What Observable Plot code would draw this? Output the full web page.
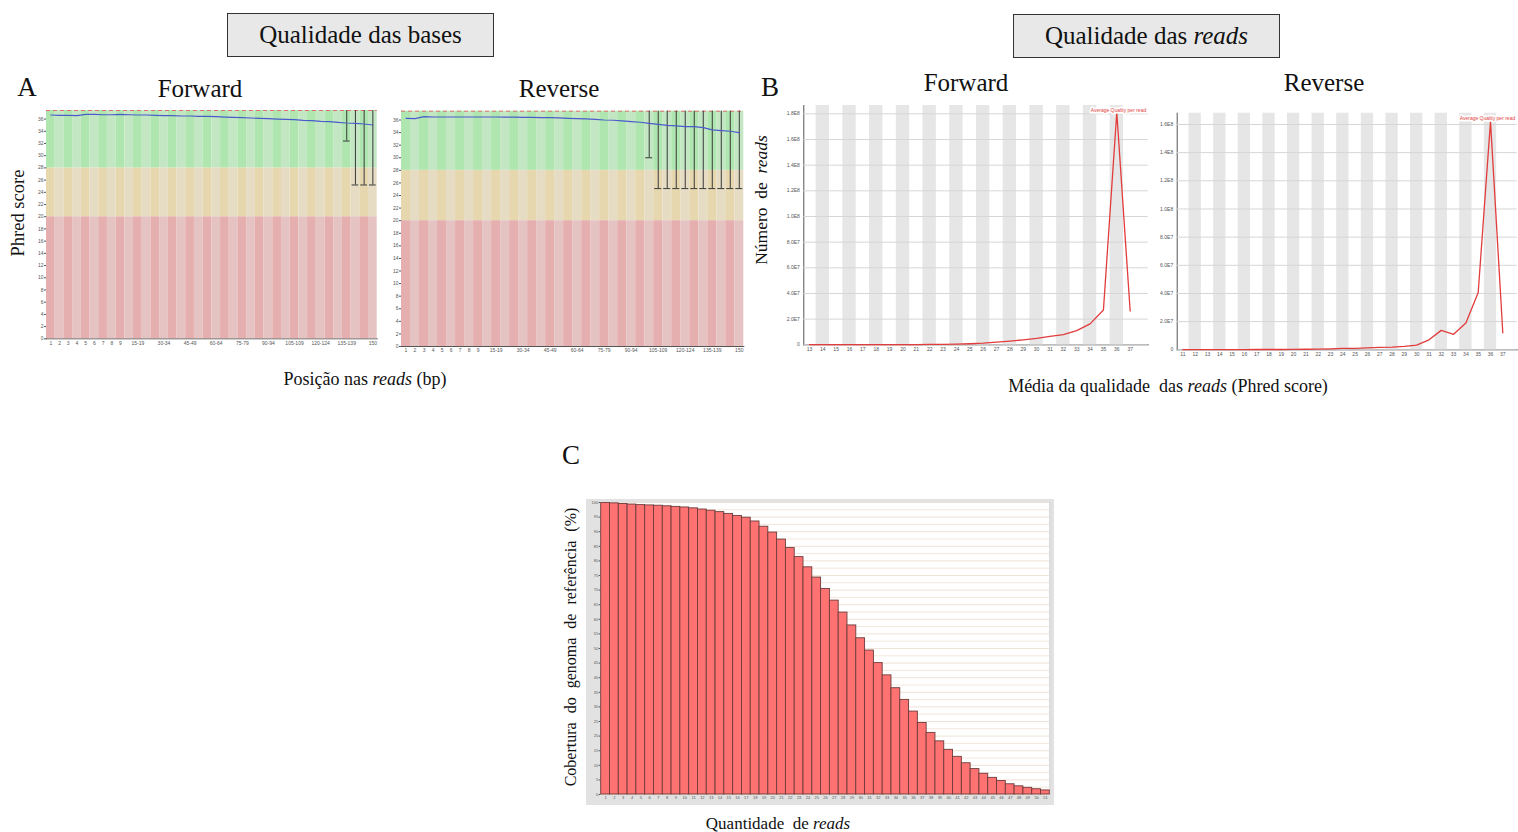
<!DOCTYPE html>
<html>
<head>
<meta charset="utf-8">
<script src="https://cdn.jsdelivr.net/npm/d3@7"></script>
<script src="https://cdn.jsdelivr.net/npm/@observablehq/plot@0.6"></script>
<style>
  html, body { margin: 0; padding: 0; background: #fff; }
  #root { position: relative; width: 1518px; height: 832px; overflow: hidden; font-family: "Liberation Serif", "Times New Roman", serif; color: #111; }
  .abs { position: absolute; }
  .lbl { position: absolute; line-height: 1; white-space: nowrap; }
  .box { position: absolute; background: #e8e8e8; border: 1px solid #333; box-sizing: border-box; text-align: center; line-height: 1; white-space: nowrap; }
</style>
</head>
<body>
<div id="root"></div>
<script>
// ---------------- DATA ----------------
// Panel A: per-base quality (position categories)
const qualCategories = ["1","2","3","4","5","6","7","8","9","10-14","15-19","20-24","25-29","30-34","35-39","40-44","45-49","50-54","55-59","60-64","65-69","70-74","75-79","80-84","85-89","90-94","95-99","100-104","105-109","110-114","115-119","120-124","125-129","130-134","135-139","140-144","145-149","150"];
const qualTickLabels = ["1","2","3","4","5","6","7","8","9","15-19","30-34","45-49","60-64","75-79","90-94","105-109","120-124","135-139","150"];
const fwdMeanQuality = [36.66,36.6,36.6,36.55,36.77,36.77,36.7,36.7,36.77,36.7,36.66,36.66,36.6,36.55,36.55,36.5,36.5,36.45,36.45,36.4,36.33,36.28,36.22,36.17,36.1,36.06,36.0,35.95,35.9,35.79,35.73,35.62,35.57,35.46,35.35,35.3,35.19,35.02];
const revMeanQuality = [36.27,36.22,36.54,36.48,36.48,36.48,36.48,36.48,36.48,36.48,36.48,36.46,36.45,36.43,36.43,36.38,36.38,36.33,36.27,36.22,36.17,36.11,36.0,35.96,35.85,35.74,35.64,35.48,35.32,35.16,35.06,34.95,34.95,34.8,34.42,34.32,34.21,34.0];
const fwdWhiskerCategories = ["135-139","140-144","145-149","150"];
const fwdWhiskerLow = [32.4,25.2,25.2,25.2];
const revWhiskerCategories = ["100-104","105-109","110-114","115-119","120-124","125-129","130-134","135-139","140-144","145-149","150"];
const revWhiskerLow = [30.0,25.1,25.1,25.1,25.1,25.1,25.1,25.1,25.1,25.1,25.1];
const phredTicks = [0,2,4,6,8,10,12,14,16,18,20,22,24,26,28,30,32,34,36];
const zoneBottoms = [0,20,28];
const zoneTops = [20,28,37.4];
const zoneDark = ["#e6afaf","#e6d7af","#afe6af"];
const zoneLight = ["#e6c3c3","#e6dcc3","#c3e6c3"];
const qualTop = 37.4;

// Panel B: per-read average quality distribution
const fwdReadQuality = [13,14,15,16,17,18,19,20,21,22,23,24,25,26,27,28,29,30,31,32,33,34,35,36,37];
const fwdReadCounts = [1e5,1e5,1e5,1e5,1e5,1e5,2e5,2e5,2e5,3e5,4e5,5e5,8e5,1.3e6,2.1e6,2.9e6,3.9e6,5.0e6,6.6e6,7.9e6,1.1e7,1.63e7,2.71e7,1.81e8,2.63e7];
const revReadQuality = [11,12,13,14,15,16,17,18,19,20,21,22,23,24,25,26,27,28,29,30,31,32,33,34,35,36,37];
const revReadCounts = [1e5,1e5,1e5,1e5,1e5,1e5,2e5,2e5,2e5,3e5,4e5,5e5,7e5,1.0e6,1.0e6,1.4e6,1.7e6,1.9e6,2.4e6,3.3e6,7.1e6,1.38e7,1.1e7,1.9e7,4.07e7,1.62e8,1.21e7];
const fwdCountTicks = [0,2e7,4e7,6e7,8e7,1e8,1.2e8,1.4e8,1.6e8,1.8e8];
const revCountTicks = [0,2e7,4e7,6e7,8e7,1e8,1.2e8,1.4e8,1.6e8];
const readLegendLabel = ["Average Quality per read"];

// Panel C: genome coverage vs number of reads
const coverageReads = [1,2,3,4,5,6,7,8,9,10,11,12,13,14,15,16,17,18,19,20,21,22,23,24,25,26,27,28,29,30,31,32,33,34,35,36,37,38,39,40,41,42,43,44,45,46,47,48,49,50,51];
const coveragePercent = [99.8,99.7,99.5,99.3,99.1,99.0,98.9,98.7,98.5,98.3,98.0,97.6,97.2,96.7,96.1,95.4,94.8,93.5,91.7,89.7,87.3,84.4,81.3,77.8,74.3,70.4,66.4,62.3,57.9,53.5,49.3,45.0,40.8,36.4,32.4,28.4,24.5,21.1,18.2,15.3,12.9,10.7,8.7,7.1,5.7,4.6,3.5,2.8,2.3,1.8,1.4];
const coverageTicks = [0,5,10,15,20,25,30,35,40,45,50,55,60,65,70,75,80,85,90,95,100];
const coverageGrid = [2.5,7.5,12.5,17.5,22.5,27.5,32.5,37.5,42.5,47.5,52.5,57.5,62.5,67.5,72.5,77.5,82.5,87.5,92.5,97.5];

// ---------------- HELPERS ----------------
const root = document.getElementById("root");
function place(node, left, top) {
  const d = document.createElement("div");
  d.className = "abs";
  d.style.left = left + "px";
  d.style.top = top + "px";
  d.appendChild(node);
  root.appendChild(d);
}
function label(html, cx, baseline, fs, extra = "") {
  const d = document.createElement("div");
  d.className = "lbl";
  d.innerHTML = html;
  d.style.cssText += `left:${cx}px;top:${baseline - 0.8375 * fs}px;font-size:${fs}px;transform:translateX(-50%);${extra}`;
  root.appendChild(d);
}
function vlabel(html, cx, cy, fs, extra = "") {
  const d = document.createElement("div");
  d.className = "lbl";
  d.innerHTML = html;
  d.style.cssText += `left:${cx}px;top:${cy}px;font-size:${fs}px;transform:translate(-50%,-50%) rotate(-90deg);${extra}`;
  root.appendChild(d);
}
function box(html, left, top, w, h, fs, baseline) {
  const d = document.createElement("div");
  d.className = "box";
  d.style.cssText += `left:${left}px;top:${top}px;width:${w}px;height:${h}px;font-size:${fs}px;padding-top:${baseline - top - 0.8375 * fs - 1}px;`;
  d.innerHTML = html;
  root.appendChild(d);
}
function fmtE(v) {
  if (v === 0) return "0";
  const e = Math.floor(Math.log10(v) + 1e-9);
  return (v / Math.pow(10, e)).toFixed(1) + "E" + e;
}
const tickStyle = {fontSize: "5px", fontFamily: "Liberation Sans, DejaVu Sans, sans-serif", color: "#555", background: "transparent", overflow: "visible"};

// ---------------- PANEL A ----------------
function qualityPlot(means, whiskCats, whiskLow, width, height, m, xPad) {
  const cells = [];
  qualCategories.forEach((c, i) => {
    zoneBottoms.forEach((b, z) => {
      cells.push({cat: c, y1: b, y2: zoneTops[z], fill: (i % 2 === 0 ? zoneDark : zoneLight)[z]});
    });
  });
  const meanData = qualCategories.map((c, i) => ({cat: c, q: means[i]}));
  const whisk = whiskCats.map((c, i) => ({cat: c, low: whiskLow[i], high: qualTop}));
  return Plot.plot({
    width, height,
    marginLeft: m[0], marginRight: m[1], marginTop: m[2], marginBottom: m[3],
    style: tickStyle,
    color: {type: "identity"},
    x: {type: "band", domain: qualCategories, padding: 0, round: false, tickSize: 0, tickPadding: xPad, label: null,
        tickFormat: d => qualTickLabels.includes(d) ? d : "", line: true},
    y: {domain: [0, qualTop], ticks: phredTicks, tickSize: 2, tickPadding: 1, label: null, line: true},
    marks: [
      Plot.barY(cells, {x: "cat", y1: "y1", y2: "y2", fill: "fill"}),
      Plot.ruleY([qualTop], {stroke: "#e07070", strokeDasharray: "4,3", strokeWidth: 1}),
      Plot.ruleX(whisk, {x: "cat", y1: "low", y2: "high", stroke: "#3a3a3a", strokeWidth: 1}),
      Plot.tickY(whisk, {x: "cat", y: "low", stroke: "#3a3a3a", strokeWidth: 1, inset: 1}),
      Plot.line(meanData, {x: "cat", y: "q", stroke: "#4a5ccc", strokeWidth: 1.2})
    ]
  });
}
place(qualityPlot(fwdMeanQuality, fwdWhiskerCategories, fwdWhiskerLow, 372, 250, [36, 5.3, 6, 15.7], 3), 10, 104);
place(qualityPlot(revMeanQuality, revWhiskerCategories, revWhiskerLow, 383, 250, [36, 4.7, 6.7, 8], 1.5), 365, 104);

// ---------------- PANEL B ----------------
function readsPlot(quals, counts, xDomain, yTop, yTicks, width, height, m) {
  const stripes = quals.filter(q => q % 2 === 0);
  const data = quals.map((q, i) => ({q, n: counts[i]}));
  return Plot.plot({
    width, height,
    marginLeft: m[0], marginRight: m[1], marginTop: m[2], marginBottom: m[3],
    style: tickStyle,
    x: {domain: xDomain, ticks: quals, tickFormat: d => String(d), tickSize: 0, tickPadding: 3, label: null, line: true},
    y: {domain: [0, yTop], ticks: yTicks, tickFormat: fmtE, tickSize: 0, tickPadding: 4, label: null, line: true},
    marks: [
      Plot.rect(stripes, {x1: d => d - 0.5, x2: d => d + 0.5, y1: () => 0, y2: () => yTop, fill: "#e6e6e6"}),
      Plot.ruleY(yTicks, {stroke: "#d6d6d6", strokeWidth: 1}),
      Plot.line(data, {x: "q", y: "n", stroke: "#e23c3c", strokeWidth: 1.3}),
      Plot.text(readLegendLabel, {frameAnchor: "top-right", textAnchor: "end", lineAnchor: "top", dx: -2, dy: 3,
        fill: "#e23c3c", stroke: "white", strokeWidth: 3, paintOrder: "stroke", fontSize: 5})
    ]
  });
}
place(readsPlot(fwdReadQuality, fwdReadCounts, [12.58, 38.35], 1.865e8, fwdCountTicks, 382, 258, [33.3, 4.3, 5, 13.7]), 770, 100);
place(readsPlot(revReadQuality, revReadCounts, [10.54, 38.17], 1.68e8, revCountTicks, 373, 255, [31.7, 1.3, 7.7, 10.7]), 1145, 105);

// ---------------- PANEL C ----------------
const covData = coverageReads.map((r, i) => ({r, p: coveragePercent[i]}));
place(Plot.plot({
  width: 468, height: 306,
  marginLeft: 14.7, marginRight: 4.7, marginTop: 3, marginBottom: 11,
  style: {...tickStyle, fontSize: "4px", background: "#e2e2e2"},
  x: {type: "band", domain: coverageReads, padding: 0, round: false, tickSize: 0, tickPadding: 2, label: null, grid: true},
  y: {domain: [0, 100], ticks: coverageTicks, tickSize: 2, tickPadding: 1, label: null},
  marks: [
    Plot.frame({fill: "white", stroke: "#cfcfcf"}),
    Plot.ruleY(coverageGrid, {stroke: "#f3e7dc", strokeWidth: 1}),
    Plot.ruleY(coverageTicks, {stroke: "#efe2d6", strokeWidth: 1}),
    Plot.barY(covData, {x: "r", y: "p", fill: "#ff7272", stroke: "#6e3b3b", strokeWidth: 0.9})
  ]
}), 586, 499);

// ---------------- TEXT ----------------
box("Qualidade das bases", 227, 13, 267, 44, 25, 43);
box("Qualidade das <i>reads</i>", 1013, 14, 267, 44, 25, 44);
label("A", 27, 97, 27);
label("Forward", 200, 97, 25);
label("Reverse", 559, 97, 25);
label("B", 770, 97, 27);
label("Forward", 966, 91, 25);
label("Reverse", 1324, 91, 25);
vlabel("Phred score", 18, 213, 18.5);
label("Posição nas <i>reads</i> (bp)", 365, 385, 18);
vlabel("Número&nbsp; de&nbsp; <i>reads</i>", 762, 200, 17.5);
label("Média da qualidade&nbsp; das <i>reads</i> (Phred score)", 1168, 392, 18);
label("C", 571, 465, 27);
vlabel("Cobertura do genoma de referência (%)", 571, 647, 16, "word-spacing:5px;");
label("Quantidade&nbsp; de <i>reads</i>", 778, 829, 17);
</script>
</body>
</html>
